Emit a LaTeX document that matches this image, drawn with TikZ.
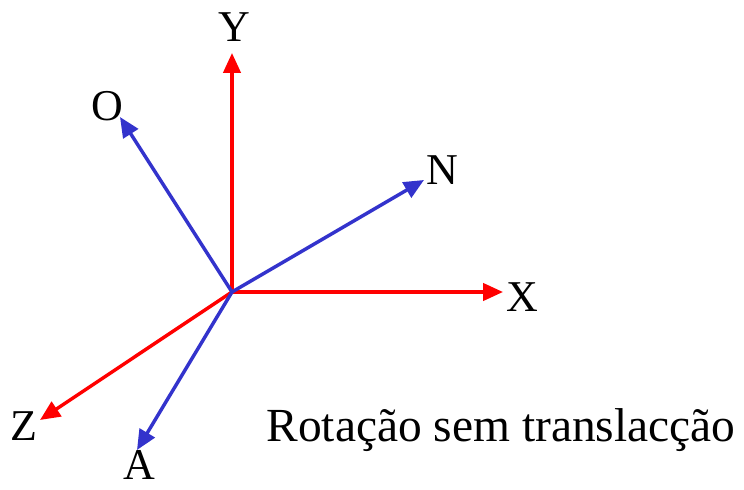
\documentclass[tikz,border=0pt]{standalone}
\usepackage{fontspec}
\setmainfont{Liberation Serif}
\usetikzlibrary{arrows.meta}
\definecolor{axisred}{RGB}{255,0,0}
\definecolor{axisblue}{RGB}{51,51,204}

\begin{document}
\begin{tikzpicture}[x=0.75pt,y=0.75pt,>={Triangle[length=15pt,width=13pt]},
  axis/.style={->,line width=2.6pt},
  lbl/.style={font=\fontsize{33}{40}\selectfont,inner sep=0pt}]
\useasboundingbox (0,0) rectangle (744,490);
\coordinate (o) at (232,198);
% fixed frame
\coordinate (y) at (232,437);
\coordinate (x) at (503,198);
\coordinate (z) at (40,70);
% rotated frame
\coordinate (a) at (137,40);
\coordinate (oo) at (120,373);
\coordinate (n) at (424,310);
\draw[axis,axisred] (o) -- (y);
\draw[axis,axisred] (o) -- (x);
\draw[axis,axisred] (o) -- (z);
\draw[axis,axisblue] (o) -- (oo);
\draw[axis,axisblue] (o) -- (n);
\draw[axis,axisblue] (o) -- (a);
\node[lbl] (ly) at (234,463) {Y};
\node[lbl] (lx) at (522,193) {X};
\node[lbl] (lz) at (24,64) {Z};
\node[lbl] (lo) at (107,384) {O};
\node[lbl] (ln) at (442,320) {N};
\node[lbl] (la) at (139,25) {A};
\node[font=\fontsize{35.6}{43}\selectfont,inner sep=0pt,anchor=base] (cap) at (501,48) {Rotação sem translacção};
\end{tikzpicture}
\end{document}
